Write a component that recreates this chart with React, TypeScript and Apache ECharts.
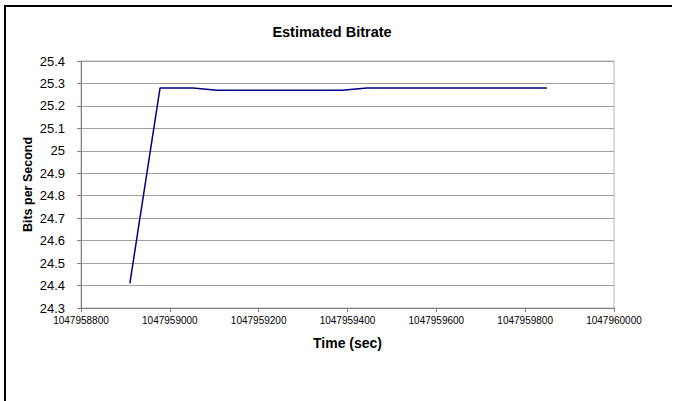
import React, { useEffect, useRef } from "react";
import * as echarts from "echarts";

// Sample times (sec) and the estimated bitrate at each sample
const times = [
  1047958910, 1047958978, 1047959052, 1047959106, 1047959388, 1047959444, 1047959849,
];
const bitrates = [24.41, 25.28, 25.28, 25.27, 25.27, 25.28, 25.28];

const chartTitle = "Estimated Bitrate";
const xAxisTitle = "Time (sec)";
const yAxisTitle = "Bits per Second";

const xMin = 1047958800;
const xMax = 1047960000;
const xStep = 200;
const yMin = 24.3;
const yMax = 25.4;
const yStep = 0.1;

export default function App() {
  const ref = useRef<HTMLDivElement>(null);

  useEffect(() => {
    if (!ref.current) return;
    const chart = echarts.init(ref.current, null, { renderer: "svg" });
    const font = "Arial, 'Liberation Sans', sans-serif";
    chart.setOption({
      animation: false,
      backgroundColor: "#ffffff",
      textStyle: { fontFamily: font },
      title: {
        text: chartTitle,
        left: 327,
        top: 19,
        textAlign: "center",
        textStyle: { fontSize: 14.5, fontWeight: "bold", color: "#000", fontFamily: font },
      },
      grid: {
        left: 81,
        right: 63,
        top: 61,
        bottom: 93,
        show: true,
        borderColor: "#b4b4b4",
        borderWidth: 1,
        backgroundColor: "#ffffff",
      },
      xAxis: {
        type: "value",
        min: xMin,
        max: xMax,
        interval: xStep,
        name: xAxisTitle,
        nameLocation: "middle",
        nameGap: 28,
        nameTextStyle: { fontSize: 14, fontWeight: "bold", color: "#000", fontFamily: font },
        axisLine: { show: true, lineStyle: { color: "#808080", width: 1 } },
        axisTick: { show: true, length: 4, lineStyle: { color: "#808080" } },
        axisLabel: {
          fontSize: 10,
          color: "#000",
          margin: 7,
          fontFamily: font,
          formatter: (v: number) => String(Math.round(v)),
        },
        splitLine: { show: false },
      },
      yAxis: {
        type: "value",
        min: yMin,
        max: yMax,
        interval: yStep,
        name: yAxisTitle,
        nameLocation: "middle",
        nameGap: 47,
        nameMoveOverlap: false,
        nameRotate: 90,
        nameTextStyle: { fontSize: 12.5, fontWeight: "bold", color: "#000", fontFamily: font },
        axisLine: { show: true, lineStyle: { color: "#808080", width: 1 } },
        axisTick: { show: true, length: 4, lineStyle: { color: "#808080" } },
        axisLabel: {
          fontSize: 13,
          color: "#000",
          margin: 16,
          fontFamily: font,
          formatter: (v: number) => String(Math.round(v * 10) / 10),
        },
        splitLine: { show: true, lineStyle: { color: "#a0a0a0", width: 1 } },
      },
      series: [
        {
          type: "line",
          data: times.map((t, i) => [t, bitrates[i]]),
          showSymbol: false,
          symbol: "none",
          lineStyle: { color: "#000080", width: 1.5 },
        },
      ],
      graphic: [
        {
          type: "polyline",
          shape: { points: [[5, 401], [5, 6], [672, 6]] },
          style: { stroke: "#000", lineWidth: 2, fill: "none" },
          silent: true,
        },
      ],
    });
    return () => chart.dispose();
  }, []);

  return (
    <div
      ref={ref}
      style={{ position: "fixed", left: 0, top: 0, width: 677, height: 401 }}
    />
  );
}
